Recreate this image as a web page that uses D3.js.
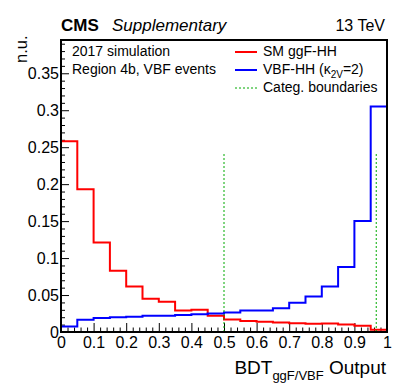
<!DOCTYPE html>
<html>
<head>
<meta charset="utf-8">
<script src="https://cdn.jsdelivr.net/npm/d3@7"></script>
<style>
  body { margin: 0; background: #fff; }
  text { font-family: "Liberation Sans", Arial, sans-serif; fill: #000; }
</style>
</head>
<body>
<div id="chart"></div>
<script>
// Bin lower edges of the BDT output (width 0.05)
var binLow = [0, 0.05, 0.1, 0.15, 0.2, 0.25, 0.3, 0.35, 0.4, 0.45,
              0.5, 0.55, 0.6, 0.65, 0.7, 0.75, 0.8, 0.85, 0.9, 0.95];
var binWidth = 0.05;

// SM ggF-HH (red)
var ggfValues = [0.258, 0.193, 0.121, 0.083, 0.0616, 0.045, 0.041, 0.029, 0.030, 0.022,
                 0.017, 0.015, 0.014, 0.013, 0.012, 0.011, 0.0115, 0.010, 0.0085, 0.003];
// VBF-HH k2V=2 (blue)
var vbfValues = [0.0076, 0.0166, 0.019, 0.020, 0.0205, 0.022, 0.022, 0.023, 0.024, 0.025,
                 0.0265, 0.029, 0.029, 0.032, 0.0396, 0.048, 0.0616, 0.088, 0.150, 0.305];

// category boundaries (green dotted)
var boundaries = [0.5, 0.967];
var boundaryHeight = 0.243;

var xTickValues = [0, 0.1, 0.2, 0.3, 0.4, 0.5, 0.6, 0.7, 0.8, 0.9, 1];
var xTickLabels = ["0", "0.1", "0.2", "0.3", "0.4", "0.5", "0.6", "0.7", "0.8", "0.9", "1"];
var yTickValues = [0, 0.05, 0.1, 0.15, 0.2, 0.25, 0.3, 0.35];
var yTickLabels = ["0", "0.05", "0.1", "0.15", "0.2", "0.25", "0.3", "0.35"];

var svgWidth = 407;
var svgHeight = 391;
var margin = { top: 40, right: 20, bottom: 59, left: 61 };
var width = svgWidth - margin.left - margin.right;
var height = svgHeight - margin.top - margin.bottom;

var svg = d3.select("#chart")
  .append("svg")
  .attr("width", svgWidth)
  .attr("height", svgHeight);

var chartGroup = svg.append("g")
  .attr("transform", `translate(${margin.left}, ${margin.top})`);

var xScale = d3.scaleLinear().domain([0, 1]).range([0, width]);
var yScale = d3.scaleLinear().domain([0, 0.395]).range([height, 0]);

// minor ticks
var xMinor = d3.range(0, 51).map(i => i * 0.02).filter(v => Math.abs(v * 10 - Math.round(v * 10)) > 1e-6);
var yMinor = d3.range(0, 40).map(i => i * 0.01).filter(v => Math.abs(v * 20 - Math.round(v * 20)) > 1e-6);

// x axis (ticks pointing inward)
var xAxis = d3.axisBottom(xScale)
  .tickValues(xTickValues)
  .tickSize(-9)
  .tickPadding(16)
  .tickFormat((d, i) => xTickLabels[i]);
var xg = chartGroup.append("g")
  .attr("transform", `translate(0, ${height})`)
  .call(xAxis);
xg.select(".domain").remove();
xg.selectAll("line").attr("stroke", "#000");
xg.selectAll("text").style("font-size", "16px").attr("dy", "0.71em").attr("y", 5);

var xgMinor = chartGroup.append("g")
  .attr("transform", `translate(0, ${height})`)
  .call(d3.axisBottom(xScale).tickValues(xMinor).tickSize(-4.5).tickFormat(""));
xgMinor.select(".domain").remove();
xgMinor.selectAll("line").attr("stroke", "#000");

// y axis
var yAxis = d3.axisLeft(yScale)
  .tickValues(yTickValues)
  .tickSize(-8)
  .tickPadding(3)
  .tickFormat((d, i) => yTickLabels[i]);
var yg = chartGroup.append("g").call(yAxis);
yg.select(".domain").remove();
yg.selectAll("line").attr("stroke", "#000");
yg.selectAll("text").style("font-size", "16px").attr("x", -2);

var ygMinor = chartGroup.append("g")
  .call(d3.axisLeft(yScale).tickValues(yMinor).tickSize(-4).tickFormat(""));
ygMinor.select(".domain").remove();
ygMinor.selectAll("line").attr("stroke", "#000");

// histograms as step lines
function histPoints(values) {
  var pts = [[0, 0]];
  values.forEach(function(v, i) {
    pts.push([binLow[i], v]);
    pts.push([binLow[i] + binWidth, v]);
  });
  pts.push([1, 0]);
  return pts;
}
var line = d3.line()
  .x(d => xScale(d[0]))
  .y(d => yScale(d[1]));

chartGroup.append("path")
  .attr("d", line(histPoints(ggfValues)))
  .attr("fill", "none")
  .attr("stroke", "#ff0000")
  .attr("stroke-width", 2);

chartGroup.append("path")
  .attr("d", line(histPoints(vbfValues)))
  .attr("fill", "none")
  .attr("stroke", "#0000ff")
  .attr("stroke-width", 2);

// category boundaries
chartGroup.selectAll(".boundary")
  .data(boundaries)
  .enter()
  .append("line")
  .attr("class", "boundary")
  .attr("x1", d => xScale(d))
  .attr("x2", d => xScale(d))
  .attr("y1", yScale(0))
  .attr("y2", yScale(boundaryHeight))
  .attr("stroke", "#00aa00")
  .attr("stroke-width", 1)
  .attr("stroke-dasharray", "2,2");

// frame
chartGroup.append("rect")
  .attr("x", 0)
  .attr("y", 0)
  .attr("width", width)
  .attr("height", height)
  .attr("fill", "none")
  .attr("stroke", "#000")
  .attr("stroke-width", 2);

// header
svg.append("text")
  .attr("x", margin.left)
  .attr("y", 31)
  .style("font-size", "17px")
  .style("font-weight", "bold")
  .text("CMS");
svg.append("text")
  .attr("x", 112)
  .attr("y", 31)
  .style("font-size", "17px")
  .style("font-style", "italic")
  .text("Supplementary");
svg.append("text")
  .attr("x", 385)
  .attr("y", 31)
  .attr("text-anchor", "end")
  .style("font-size", "16px")
  .text("13 TeV");

// info text
svg.append("text")
  .attr("x", 72)
  .attr("y", 56)
  .style("font-size", "14px")
  .text("2017 simulation");
svg.append("text")
  .attr("x", 72)
  .attr("y", 74)
  .style("font-size", "14px")
  .text("Region 4b, VBF events");

// legend
var legendY = [52, 70, 88];
var legendColors = ["#ff0000", "#0000ff", "#00aa00"];
legendColors.forEach(function(c, i) {
  svg.append("line")
    .attr("x1", 235).attr("x2", 257)
    .attr("y1", legendY[i]).attr("y2", legendY[i])
    .attr("stroke", c)
    .attr("stroke-width", i == 2 ? 1 : 2)
    .attr("stroke-dasharray", i == 2 ? "2,2" : null);
});
svg.append("text")
  .attr("x", 263).attr("y", 56)
  .style("font-size", "14px")
  .text("SM ggF-HH");
var vbfLabel = svg.append("text")
  .attr("x", 263).attr("y", 74)
  .style("font-size", "14px");
vbfLabel.append("tspan").text("VBF-HH (\u03BA");
vbfLabel.append("tspan").attr("dy", 4).style("font-size", "10px").text("2V");
vbfLabel.append("tspan").attr("dy", -4).text("=2)");
svg.append("text")
  .attr("x", 263).attr("y", 92)
  .style("font-size", "14px")
  .text("Categ. boundaries");

// axis titles
var xTitle = svg.append("text")
  .attr("x", 386)
  .attr("y", 374)
  .attr("text-anchor", "end")
  .style("font-size", "19px");
xTitle.append("tspan").text("BDT");
xTitle.append("tspan").attr("dy", 5.5).style("font-size", "13px").text("ggF/VBF");
xTitle.append("tspan").attr("dy", -5.5).text(" Output");

svg.append("text")
  .attr("transform", "translate(27, 63) rotate(-90)")
  .style("font-size", "16.5px")
  .text("n.u.");
</script>
</body>
</html>
